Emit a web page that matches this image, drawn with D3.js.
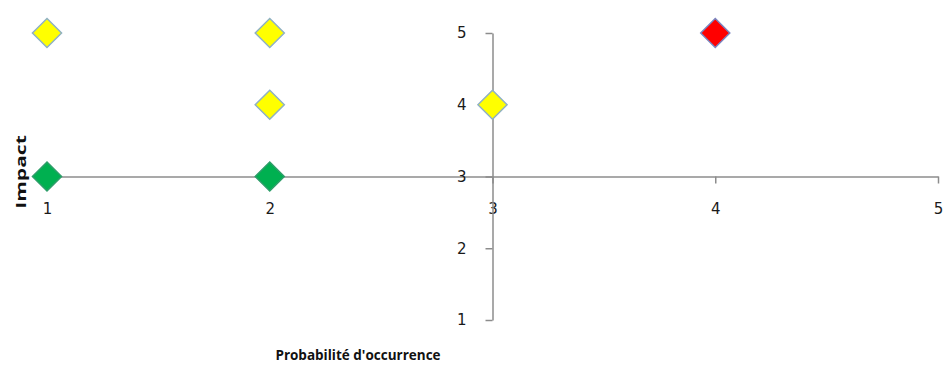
<!DOCTYPE html>
<html>
<head>
<meta charset="utf-8">
<script src="https://cdn.jsdelivr.net/npm/d3@7"></script>
<style>
  html, body { margin: 0; padding: 0; background: #fff; }
  svg { display: block; }
</style>
</head>
<body>
<svg id="chart" width="947" height="372"></svg>
<script>
// Risk matrix: probability (x) vs impact (y)
const probability = [1, 2, 2, 3, 4, 1, 2];
const impact      = [5, 5, 4, 4, 5, 3, 3];
const level       = ["moyen", "moyen", "moyen", "moyen", "fort", "faible", "faible"];
const xTicks = [1, 2, 3, 4, 5];
const yTicks = [1, 2, 3, 4, 5];
const xTitle = "Probabilité d'occurrence";
const yTitle = "Impact";

const fillColor   = { faible: "#00B050", moyen: "#FFFF00", fort: "#FF0000" };
const strokeColor = { faible: "#2E9E6A", moyen: "#8FB1C4", fort: "#7A86C0" };

const svg = d3.select("#chart");
const x = d3.scaleLinear().domain([1, 5]).range([47, 938]);
const y = d3.scaleLinear().domain([1, 5]).range([320, 33]);

const axisColor = "#8C8C8C";
const tickFont = "'DejaVu Sans', sans-serif";
const titleFont = "'Open Sans', sans-serif";

// Horizontal axis crosses at impact = 3
const xAxis = svg.append("g")
  .attr("transform", `translate(0,${y(3)})`)
  .call(d3.axisBottom(x).tickValues(xTicks).tickSize(7).tickSizeOuter(0).tickFormat(d3.format("d")));
xAxis.select(".domain").attr("stroke", axisColor).attr("stroke-width", 1.5);
xAxis.selectAll(".tick line").attr("stroke", axisColor).attr("stroke-width", 1.5);
xAxis.selectAll(".tick text")
  .attr("y", 27).attr("font-family", tickFont).attr("font-size", 15).attr("fill", "#1a1a1a");

// Vertical axis crosses at probability = 3
const yAxis = svg.append("g")
  .attr("transform", `translate(${x(3)},0)`)
  .call(d3.axisLeft(y).tickValues(yTicks).tickSize(7).tickSizeOuter(0).tickFormat(d3.format("d")));
yAxis.select(".domain").attr("stroke", axisColor).attr("stroke-width", 1.5);
yAxis.selectAll(".tick line").attr("stroke", axisColor).attr("stroke-width", 1.5);
yAxis.selectAll(".tick text")
  .attr("x", -26).attr("font-family", tickFont).attr("font-size", 15).attr("fill", "#1a1a1a");
svg.selectAll("g").attr("font-family", tickFont);

// Diamond markers
const diamond = d3.symbol().type(d3.symbolDiamond2).size(540);
svg.append("g").selectAll("path")
  .data(probability.map((p, i) => ({ p, v: impact[i], l: level[i] })))
  .join("path")
  .attr("d", diamond)
  .attr("transform", d => `translate(${x(d.p)},${y(d.v)})`)
  .attr("fill", d => fillColor[d.l])
  .attr("stroke", d => strokeColor[d.l])
  .attr("stroke-width", 1.5);

// Axis titles
svg.append("text")
  .attr("x", 358).attr("y", 360)
  .attr("text-anchor", "middle")
  .attr("font-family", titleFont).attr("font-weight", "bold").attr("font-size", 13.5)
  .attr("fill", "#111")
  .text(xTitle);

// Vertical title is drawn stretched along its length
svg.append("text")
  .attr("transform", "translate(26,172) rotate(-90) scale(1.45,1)")
  .attr("text-anchor", "middle")
  .attr("font-family", titleFont).attr("font-weight", "bold").attr("font-size", 14.5)
  .attr("fill", "#111")
  .text(yTitle);
</script>
</body>
</html>
